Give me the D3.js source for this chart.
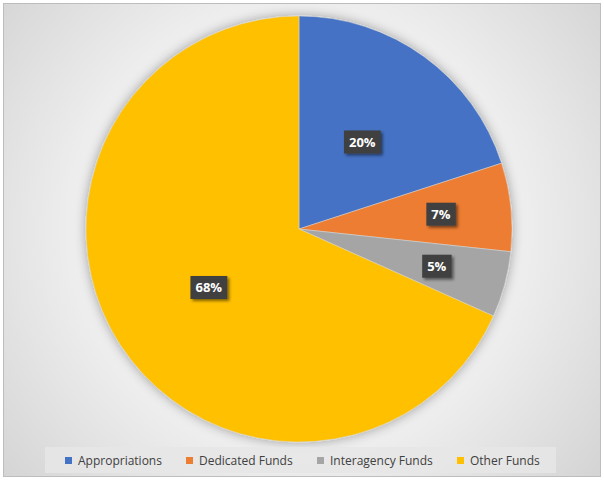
<!DOCTYPE html>
<html>
<head>
<meta charset="utf-8">
<script src="https://cdn.jsdelivr.net/npm/d3@7"></script>
<style>
html,body{margin:0;padding:0;background:#fff;}
svg{display:block;}
</style>
</head>
<body>
<svg id="chart" width="604" height="480"></svg>
<script>
const categories = ["Appropriations", "Dedicated Funds", "Interagency Funds", "Other Funds"];
const values = [20.0, 6.7, 5.0, 68.3];
const colors = ["#4472C4", "#ED7D31", "#A5A5A5", "#FFC000"];

const W = 604, H = 480;
const cx = 299, cy = 229, R = 213;
const svg = d3.select("#chart");
const defs = svg.append("defs");

const grad = defs.append("radialGradient").attr("id", "bg")
  .attr("gradientUnits", "userSpaceOnUse")
  .attr("cx", cx).attr("cy", cy).attr("r", 420);
grad.append("stop").attr("offset", "0").attr("stop-color", "#ffffff");
grad.append("stop").attr("offset", "0.55").attr("stop-color", "#ededed");
grad.append("stop").attr("offset", "1").attr("stop-color", "#cfcfcf");

const sh = defs.append("filter").attr("id", "pieShadow")
  .attr("x", "-20%").attr("y", "-20%").attr("width", "140%").attr("height", "140%");
sh.append("feGaussianBlur").attr("in", "SourceAlpha").attr("stdDeviation", 6).attr("result", "b");
sh.append("feOffset").attr("in", "b").attr("dx", 0).attr("dy", 0).attr("result", "o");
sh.append("feComponentTransfer").attr("in", "o").attr("result", "s")
  .append("feFuncA").attr("type", "linear").attr("slope", 0.35);
const m = sh.append("feMerge");
m.append("feMergeNode").attr("in", "s");
m.append("feMergeNode").attr("in", "SourceGraphic");

const lsh = defs.append("filter").attr("id", "lblShadow")
  .attr("x", "-30%").attr("y", "-30%").attr("width", "160%").attr("height", "160%");
lsh.append("feGaussianBlur").attr("in", "SourceAlpha").attr("stdDeviation", 1.5).attr("result", "b");
lsh.append("feOffset").attr("in", "b").attr("dx", 1.5).attr("dy", 1.5).attr("result", "o");
lsh.append("feComponentTransfer").attr("in", "o").attr("result", "s")
  .append("feFuncA").attr("type", "linear").attr("slope", 0.5);
const m2 = lsh.append("feMerge");
m2.append("feMergeNode").attr("in", "s");
m2.append("feMergeNode").attr("in", "SourceGraphic");

// background & frame
svg.append("rect").attr("x", 3.5).attr("y", 3.5).attr("width", 597).attr("height", 473)
  .attr("fill", "url(#bg)").attr("stroke", "#bdbdbd").attr("stroke-width", 1);

const data = categories.map((c, i) => ({ name: c, value: values[i], color: colors[i] }));
const pie = d3.pie().value(d => d.value).sort(null);
const arcs = pie(data);
const arc = d3.arc().innerRadius(0).outerRadius(R);

const g = svg.append("g").attr("transform", `translate(${cx},${cy})`);
g.append("g").attr("filter", "url(#pieShadow)")
  .selectAll("path").data(arcs).join("path")
  .attr("d", arc)
  .attr("fill", d => d.data.color)
  .attr("stroke", "#d9d9d9").attr("stroke-width", 0.5);

const total = d3.sum(values);
const fmt = v => Math.round(v / total * 100) + "%";
arcs.forEach(a => {
  const frac = (a.data.value / total) < 0.1 ? 0.67 : 0.505;
  const la = d3.arc().innerRadius(R * frac).outerRadius(R * frac);
  const [x, y] = la.centroid(a);
  const lg = g.append("g").attr("transform", `translate(${x},${y})`);
  const t = lg.append("text")
    .attr("text-anchor", "middle").attr("dy", "0.36em")
    .attr("font-family", "'Open Sans', sans-serif").attr("font-weight", "bold")
    .attr("font-size", 13).attr("fill", "#ffffff")
    .text(fmt(a.data.value));
  const bb = t.node().getBBox();
  lg.insert("rect", "text")
    .attr("x", bb.x - 5).attr("y", -11.5)
    .attr("width", bb.width + 10).attr("height", 23)
    .attr("fill", "#404040").attr("filter", "url(#lblShadow)");
});

// legend
const leg = svg.append("g");
leg.append("rect").attr("x", 45).attr("y", 447).attr("width", 511).attr("height", 26)
  .attr("fill", "#e6e6e6").attr("opacity", 0.85);
const legX = [65, 186, 317, 457];
data.forEach((d, i) => {
  leg.append("rect").attr("x", legX[i]).attr("y", 457).attr("width", 7).attr("height", 7)
    .attr("fill", d.color);
  leg.append("text").attr("x", legX[i] + 13).attr("y", 461).attr("dy", "0.35em")
    .attr("font-family", "'Open Sans', sans-serif").attr("font-size", 12)
    .attr("fill", "#404040").text(d.name);
});
</script>
</body>
</html>
